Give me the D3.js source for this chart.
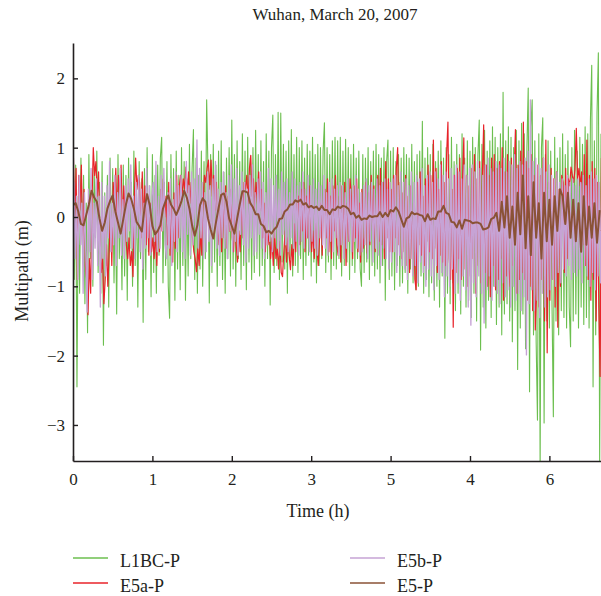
<!DOCTYPE html>
<html>
<head>
<meta charset="utf-8">
<script src="https://cdn.jsdelivr.net/npm/d3@7"></script>
<style>
  body { margin: 0; background: #fff; }
  svg { display: block; }
  text { font-family: "Liberation Serif", "DejaVu Serif", serif; fill: #231f20; }
</style>
</head>
<body>
<svg id="chart" width="601" height="596"></svg>
<script>
// values; L1BC/E5a/E5b every minute, E5 every 2 minutes
var l1bc = [
  .55,-.9,.75,-2.45,.3,-1.1,.85,-.4,.6,-1.25,
  .2,-1.67,.9,-.6,.45,-1.0,.7,-.3,.95,-.8,
  .5,-1.1,.8,-1.85,.35,-.7,.6,-1.3,.85,-.5,
  .7,-.95,.4,-1.4,.9,-.6,.3,-1.05,.75,-.85,
  .6,-1.2,.85,-.45,.5,-1.0,.95,-.7,.4,-1.3,
  .8,-.6,.55,-1.52,.7,-.9,1.0,-.5,.45,-1.15,
  .9,-.8,.6,-1.1,.75,-.55,.85,1.15,-.95,.5,
  -.7,.8,-1.0,-1.46,.9,-.6,.7,-1.2,.95,-.75,
  .6,-1.05,1.0,-.7,.8,-1.2,.55,-.85,1.05,-.6,
  .7,1.26,-.9,.85,-1.1,.6,-.75,.95,-1.0,.8,
  -.6,1.69,.7,-1.24,.9,-.8,1.05,-.65,.75,-1.0,
  .95,-.7,1.1,-.9,.65,-1.1,.85,-.6,1.0,-.85,
  1.4,-.75,.9,-1.0,1.1,-.6,.8,-.9,1.2,-.7,
  .95,-1.05,1.15,-.65,.85,-.9,1.0,-.8,1.25,-.6,
  .9,-.85,1.1,-.7,.8,-1.0,1.2,-.6,.95,-1.27,
  1.0,1.47,-.8,.9,-.7,1.51,-.9,1.5,-.65,1.05,
  -.75,.95,-1.1,1.1,-.6,1.26,-.85,.9,-.7,1.15,
  -.8,1.0,-.6,1.1,-.9,.85,-.7,1.05,-.55,.95,
  -.85,1.15,-.65,.9,-.95,1.05,-.7,1.0,-.6,.95,
  1.36,-.8,1.0,-.65,.9,-.9,1.1,-.7,1.15,-.75,
  1.1,-.6,1.15,-.85,.95,-.7,1.12,-.65,1.0,-.9,
  .9,-.7,1.05,-.8,.85,-.6,.95,-.75,-1.0,.9,
  -.8,.85,-.65,1.0,-.9,.8,-.7,.95,-.85,1.05,
  -.75,.9,-.95,.85,-.7,1.0,-1.2,.8,1.11,-.9,
  .95,-.85,1.0,-1.05,.8,-.7,.9,-1.0,.85,-.95,
  1.0,-.8,.9,-1.1,.85,-.75,1.05,-.95,.8,-1.05,
  .9,-1.0,.95,-.85,1.38,-1.1,.85,-.9,1.0,-1.15,
  .9,-.95,1.05,-1.2,.8,-1.0,.95,-1.3,1.1,-.85,
  .85,-1.75,1.0,-1.1,.9,-1.25,1.15,-.95,.8,-1.35,
  1.05,-1.1,.9,-1.4,1.2,-1.0,.85,-1.3,1.1,-1.2,
  .95,-1.45,1.15,-1.1,1.0,-1.5,.9,1.4,-1.92,1.05,
  -1.3,1.25,-1.6,.95,-1.2,1.1,-1.45,1.3,-1.0,1.15,
  -1.55,1.0,-1.3,1.2,-1.7,1.8,-1.4,1.1,-1.25,1.3,
  -1.5,1.15,-1.8,1.0,-1.35,1.25,-2.2,1.1,-1.6,1.35,
  -1.4,1.2,-1.9,1.0,1.86,-2.52,1.3,1.69,-1.7,1.1,
  -1.8,-2.93,1.2,-3.6,1.0,1.43,-2.97,.9,-1.5,1.1,
  -1.6,.95,-1.3,-2.88,1.15,-1.5,.85,-1.7,1.0,-1.35,
  1.2,-1.45,.9,-1.6,1.1,-1.3,-1.87,1.0,-1.5,1.25,
  -1.4,.95,-1.6,1.15,-1.3,1.05,-1.55,1.3,-1.45,1.2,
  -1.6,1.4,2.19,-2.45,1.1,-1.7,1.5,2.37,-3.6,1.2];

var e5a = [
  .85,-.2,.7,-.9,.6,.1,.75,-.5,.4,-.7,
  -.9,-1.41,-.6,-1.1,.2,1.0,.6,.8,.3,.65,
  -.3,-.8,-.6,-1.25,-.9,-.4,-1.0,-.5,.1,-.7,
  .5,.2,.7,-.1,.6,.3,.75,-.2,.45,.1,
  -.4,-.6,-.3,-.7,-.5,-.86,.3,.85,.4,.6,
  .5,-.3,.65,-.1,.45,-.4,.3,-.55,.2,-.5,
  -.3,-.6,-.2,-.7,.1,-.5,.4,-.2,.55,.0,
  .3,-.4,.5,-.55,.2,-.65,.35,-.45,.6,-.3,
  .45,.6,.3,.55,.4,.72,.35,.65,.2,.5,
  -.3,-.5,-.6,-.79,-.45,-.7,-.2,-.55,.2,.6,
  .5,.7,.82,.4,.82,.3,.6,.1,.5,-.2,
  -.4,.2,-.5,.35,-.3,.45,-.45,.3,-.2,.4,
  -.3,-.5,.1,-.4,-.65,-.2,-.5,.3,-.3,.5,
  .4,.6,.2,.7,.89,.3,.55,.1,.5,.2,
  .65,.1,.4,-.3,.2,-.5,.0,-.4,-.2,-.6,
  -.3,-.7,-.2,-.6,-.45,-.75,-.35,-.8,-.86,-.5,
  -.2,-.65,-.3,-.55,-.76,-.4,-.7,-.1,-.5,.2,
  .3,-.4,.4,-.2,.5,-.5,.3,-.3,.45,-.1,
  -.5,-.2,-.6,.1,-.45,-.7,-.3,.2,-.55,.35,
  .4,-.3,.55,-.5,.3,-.6,.45,-.2,.6,-.4,
  -.55,.3,-.65,.45,-.4,.5,-.7,.2,-.35,.55,
  .3,-.6,.45,-.3,.55,-.5,.2,-.65,.4,-.45,
  -.3,.5,-.52,.35,-.4,.6,-.2,.45,-.5,.3,
  .6,-.35,.7,-.4,.5,-.6,.8,-.3,.55,-.5,
  .4,-.5,.6,-.3,.7,1.0,-.4,.5,-.6,.35,
  -.5,.6,-.7,.3,-.8,.45,-.6,.2,-.9,-1.05,
  .5,-.4,.65,-.55,.3,-.7,.55,-.35,.75,-.5,
  .6,-.6,1.11,-.45,.7,-.8,.4,-.55,.8,-.65,
  .5,-.7,.9,1.37,-.6,-.9,.4,-1.59,.6,-.8,
  .7,-.6,.85,-.9,.5,1.14,-.75,.6,-1.0,.45,
  -.85,.7,-.6,.9,-1.1,.55,-.7,.8,-.95,.6,
  1.33,-.8,.75,-1.0,.6,-1.15,.85,-.7,.9,-1.05,
  .7,-.9,.8,-.6,1.0,-1.2,.65,-.85,.9,-.75,
  -1.0,.85,-.7,.6,1.26,-1.1,.75,-.9,.95,-.8,
  1.37,-.9,.8,-1.2,.7,-1.0,.9,-1.35,.6,-1.63,
  -1.1,.75,-1.3,.6,-.9,.85,-1.5,1.11,-1.96,.5,
  -1.2,.7,-.9,.55,-1.3,.65,-1.59,.4,-1.0,.6,
  .5,-.8,.7,-.6,.55,.45,.72,.6,.5,.68,
  1.28,.55,.7,.45,.65,-.4,.9,-.7,1.11,-.9,
  .6,-1.2,.8,-.9,.7,-1.5,.5,-1.3,-2.3,.85];

var e5b = [
  .5,-.6,.3,-.9,.6,-.4,.2,-1.1,.35,-.5,
  -1.37,.4,-.5,.7,-.9,.2,-.45,.55,-.7,.3,
  -1.3,.5,-.6,.3,-.85,.45,-.3,.8,-.5,.2,
  -.4,.6,-.7,.35,-.3,.7,-.55,.25,-.6,.45,
  -.35,.55,-.2,.75,-.45,.3,-.6,.5,-.3,.6,
  -.5,.4,-.75,.2,-.45,.7,-.3,.45,-.55,.3,
  .5,-.35,.8,-.5,.3,-.45,.6,-.2,.7,-.4,
  -.6,.35,-.45,.55,-.7,.25,-.35,.65,-.5,.45,
  -.3,.6,-.5,.35,-.6,.8,-.25,.45,-.55,.65,
  -.4,.55,-.2,1.11,-.45,.7,-.3,.5,-.6,.35,
  -.5,.65,-.35,.45,-.7,.55,-.25,.8,-.45,.4,
  -.55,.5,-.3,.65,-.45,.35,-.6,.6,-.2,.75,
  -.5,.55,-.35,.7,-.55,.45,-.25,.65,-.4,.5,
  -.65,.4,-.45,.6,-.3,.75,-.55,.35,-.5,.55,
  -.25,.65,-.45,.5,-.6,.35,-.4,.7,-.35,.55,
  -.5,.45,-.3,.6,-.45,.4,-.55,.65,-.25,.5,
  -.4,.55,-.5,.35,-.3,.65,-.45,.55,-.35,.45,
  -.55,.5,-.35,.65,-.45,.4,-.3,.6,-.5,.45,
  -.35,.55,-.45,.4,-.55,.5,-.3,.45,-.4,.6,
  -.45,.35,-.55,.5,-.35,.55,-.5,.4,-.3,.45,
  -.55,.5,-.4,.45,-.6,.35,-.45,.55,-.35,.4,
  -.5,.45,-.35,.6,-.45,.4,-.55,.35,-.5,.45,
  -.4,.55,-.6,.45,-.35,.5,-.65,.4,-.45,.55,
  -.55,.45,-.7,.5,-.45,.55,-.6,.4,-.75,.5,
  -.65,.55,-.5,.6,-.8,.45,-.55,.65,-.7,.5,
  -.75,.55,-.9,.45,-.6,.65,-.85,.5,-.7,.6,
  -.95,.55,-.65,.7,-.8,.45,-1.0,.6,-.75,.65,
  -.85,.5,-1.05,.65,-.7,.55,-.9,.75,-.8,.6,
  -1.15,.65,-.85,.55,-1.0,.7,-.75,.6,-1.1,.75,
  -.95,.65,-1.2,.55,-.85,.75,-1.05,.6,-1.3,.7,
  -1.56,.75,-.95,.65,-1.15,.8,-.85,.7,-1.1,.6,
  -1.53,.75,-1.05,.85,-.85,.7,-1.2,.65,-1.0,.8,
  -1.1,.75,-1.25,.7,-.95,.85,-1.15,.65,-1.05,.8,
  -1.3,.75,-1.0,.9,-1.2,.7,-1.1,.8,-1.35,.75,
  -1.15,.85,-1.99,.95,-1.25,1.69,-1.05,.8,-1.35,.85,
  -1.2,.75,-1.45,.7,-1.1,.85,-1.3,.65,-1.15,.75,
  -1.05,.6,-.9,.55,-1.0,.65,-.8,.5,-.95,.55,
  -.75,.45,-.85,.6,-.7,.5,-.9,.55,-.8,.45,
  -.85,.55,-.75,.5,-.95,.6,-.7,.45,-.85,.55,
  -1.0,.65,-.8,.55,-1.05,.6,-.85,.5,-.95,.55];

var e5 = [
  .17,.2,.08,-.1,-.12,.03,.18,.38,.28,.22,
  -.02,-.2,-.08,.12,.23,.31,.08,-.08,-.24,-.03,
  .18,.34,.26,.12,-.07,-.13,-.21,.12,.33,.17,
  -.13,-.25,-.2,-.12,.12,.23,.31,.18,.12,.03,
  .12,.23,.38,.28,.12,-.12,-.27,-.12,.17,.27,
  .22,-.02,-.18,-.31,-.08,.13,.32,.34,.22,-.02,
  -.13,-.24,-.03,.18,.37,.37,.35,.2,.14,.04,
  .04,-.1,-.13,-.22,-.2,-.24,-.18,-.14,-.03,-.02,
  .08,.11,.18,.18,.24,.22,.25,.18,.2,.14,
  .16,.13,.15,.1,.16,.1,.1,.04,.11,.1,
  .15,.13,.16,.15,.12,.04,.06,-.01,.02,-.04,
  -.02,-.03,.02,.0,.01,.01,.07,.0,.06,.01,
  .1,.08,.14,.08,-.03,-.14,-.02,.0,.07,.04,
  .05,.03,.02,-.06,.04,-.04,-.02,-.03,.08,.08,
  .16,.06,.04,-.07,-.08,-.15,-.05,-.17,-.04,-.05,
  -.06,-.09,-.08,-.08,-.1,-.18,-.17,-.15,-.03,-.01,
  .06,-.2,.22,-.15,.3,-.3,.15,-.4,.35,-.25,
  .6,-.45,.3,-.55,.5,-.3,.2,-.6,.35,-.35,
  .25,-.4,.3,-.2,.4,.3,-.1,.35,-.3,.25,
  -.35,.2,-.5,.3,-.4,.15,-.3,.2,-.37,.1];

var seriesNames = ["L1BC-P", "E5a-P", "E5b-P", "E5-P"];
var seriesColors = ["#6cbf4f", "#e8232a", "#c6a3d5", "#8a5236"];
var seriesWidths = [1.1, 1.2, 1.35, 2];
var seriesValues = [l1bc, e5a, e5b, e5];
var seriesStep = [1 / 60, 1 / 60, 1 / 60, 1 / 30];   // hours between samples
var seriesPhase = [0, 1 / 3, 2 / 3, 0];              // sampling offset, in steps

var xTicks = [0, 1, 2, 3, 4, 5, 6];
var xTickLabels = ["0", "1", "2", "3", "5", "4", "6"]; // as printed in the figure
var yTicks = [-3, -2, -1, 0, 1, 2];

var svg = d3.select("#chart");
var margin = {top: 43, right: 0, bottom: 135, left: 73};
var width = 601, height = 596;

var x = d3.scaleLinear().domain([0, 6.65]).range([margin.left, width - margin.right]);
var y = d3.scaleLinear().domain([-3.52, 2.51]).range([height - margin.bottom, margin.top]);

svg.append("defs").append("clipPath").attr("id", "plot")
  .append("rect")
  .attr("x", margin.left).attr("y", margin.top)
  .attr("width", width - margin.left - margin.right)
  .attr("height", height - margin.top - margin.bottom);

var vis = svg.append("g").attr("clip-path", "url(#plot)");

seriesValues.forEach(function (vals, k) {
  var line = d3.line()
    .x(function (d, i) { return x((i + seriesPhase[k]) * seriesStep[k]); })
    .y(function (d) { return y(d); });
  vis.append("path")
    .attr("d", line(vals))
    .attr("fill", "none")
    .attr("stroke", seriesColors[k])
    .attr("stroke-width", seriesWidths[k])
    .attr("stroke-linejoin", "round");
});

// axes
var xAxis = d3.axisBottom(x).tickValues(xTicks).tickSizeInner(-5).tickSizeOuter(0)
  .tickFormat(function (d, i) { return xTickLabels[i]; });
var gx = svg.append("g").attr("transform", "translate(0," + y.range()[0] + ")").call(xAxis);

var yAxis = d3.axisLeft(y).tickValues(yTicks).tickSizeInner(-5).tickSizeOuter(0)
  .tickFormat(function (d) { return d < 0 ? "\u2212" + Math.abs(d) : d; });
var gy = svg.append("g").attr("transform", "translate(" + margin.left + ",0)").call(yAxis);

[gx, gy].forEach(function (g) {
  g.select(".domain").attr("stroke", "#231f20").attr("stroke-width", 1.6);
  g.selectAll(".tick line").attr("stroke", "#231f20").attr("stroke-width", 1.4);
  g.selectAll(".tick text")
    .style("font-family", "'Liberation Serif', 'DejaVu Serif', serif")
    .style("font-size", "17px").attr("fill", "#231f20");
});
gx.selectAll(".tick text").attr("y", 12);
gy.selectAll(".tick text").attr("x", -8);

svg.append("text")
  .attr("x", 335).attr("y", 20)
  .style("text-anchor", "middle").style("font-size", "17px")
  .text("Wuhan, March 20, 2007");

svg.append("text")
  .attr("x", 318).attr("y", 517)
  .style("text-anchor", "middle").style("font-size", "18px")
  .text("Time (h)");

svg.append("text")
  .attr("transform", "rotate(-90)")
  .attr("x", -271).attr("y", 28)
  .style("text-anchor", "middle").style("font-size", "18px")
  .text("Multipath (m)");

// legend, column-major like the figure
var legendPos = [[73, 558], [73, 583], [350, 558], [350, 583]];
seriesNames.forEach(function (name, k) {
  var p = legendPos[k];
  svg.append("line")
    .attr("x1", p[0]).attr("x2", p[0] + 35)
    .attr("y1", p[1]).attr("y2", p[1])
    .attr("stroke", seriesColors[k]).attr("stroke-width", 1.5);
  svg.append("text")
    .attr("x", p[0] + 47).attr("y", p[1] + 9)
    .style("font-size", "18px")
    .text(name);
});
</script>
</body>
</html>
